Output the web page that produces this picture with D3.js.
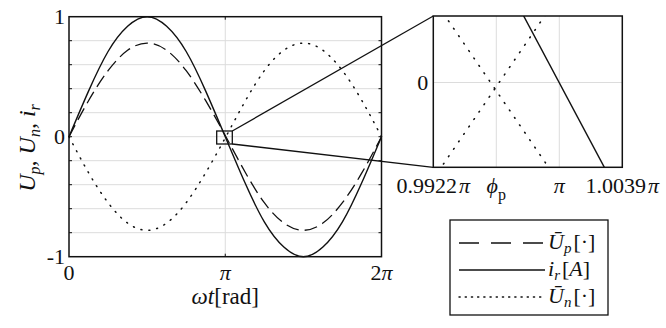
<!DOCTYPE html>
<html>
<head>
<meta charset="utf-8">
<script src="https://cdn.jsdelivr.net/npm/d3@7/dist/d3.min.js"></script>
<style>
  body { margin: 0; background: #fff; }
</style>
</head>
<body>
<div id="chart"></div>
<script>
// main plot samples, x in multiples of pi/8
const sampleX = [0, 1, 2, 3, 4, 5, 6, 7, 8, 9, 10, 11, 12, 13, 14, 15, 16];
const irValues = [0, 0.38, 0.71, 0.92, 1, 0.92, 0.71, 0.38, 0, -0.38, -0.71, -0.92, -1, -0.92, -0.71, -0.38, 0];
const upValues = [0, 0.30, 0.55, 0.72, 0.78, 0.72, 0.55, 0.30, 0.01, -0.29, -0.55, -0.72, -0.78, -0.72, -0.55, -0.30, 0];
const unValues = [0, -0.30, -0.55, -0.72, -0.78, -0.72, -0.55, -0.30, -0.01, 0.29, 0.55, 0.72, 0.78, 0.72, 0.55, 0.30, 0];

// zoomed view near pi, x in multiples of pi
const zoomX = [0.9922, 1.0039];
const zoomIr = [0.0245, -0.0123];
const zoomUp = [0.0087, -0.0200];
const zoomUn = [-0.0100, 0.0187];
const zoomTicks = [0.9922, 0.9961, 1, 1.0039];
const zoomTickLabels = ['0.9922', 'ϕ', 'π', '1.0039'];

const yGrid = [-0.8, -0.6, -0.4, -0.2, 0, 0.2, 0.4, 0.6, 0.8];
const legendItems = [
  { base: 'Ū', sub: 'p', unit: '[·]', dash: '20,12' },
  { base: 'i', sub: 'r', unit: '[A]', dash: null },
  { base: 'Ū', sub: 'n', unit: '[·]', dash: '1.2,5' },
];

const W = 666, H = 328;
const svg = d3.select('#chart').append('svg')
  .attr('width', W).attr('height', H);
const ink = '#111';
// every text gets the serif face directly
const addText = (sel) => sel.append('text')
  .attr('font-family', 'Liberation Serif')
  .style('font-family', "'Liberation Serif', 'Times New Roman', serif")
  .attr('fill', ink);

// ---- main plot
const x = d3.scaleLinear().domain([0, 2 * Math.PI]).range([69, 381.5]);
const y = d3.scaleLinear().domain([-1, 1]).range([256.7, 16.7]);

const main = svg.append('g');
main.selectAll('line.hg').data(yGrid).join('line')
  .attr('x1', x.range()[0]).attr('x2', x.range()[1])
  .attr('y1', (d) => y(d)).attr('y2', (d) => y(d))
  .attr('stroke', '#dcdcdc').attr('stroke-width', 1);
main.append('line')
  .attr('x1', x(Math.PI)).attr('x2', x(Math.PI))
  .attr('y1', y(-1)).attr('y2', y(1))
  .attr('stroke', '#dcdcdc').attr('stroke-width', 1);

// inward ticks
yGrid.forEach((d) => {
  main.append('line').attr('x1', x(0)).attr('x2', x(0) + 3).attr('y1', y(d)).attr('y2', y(d)).attr('stroke', ink);
  main.append('line').attr('x1', x(2 * Math.PI)).attr('x2', x(2 * Math.PI) - 3).attr('y1', y(d)).attr('y2', y(d)).attr('stroke', ink);
});
main.append('line').attr('x1', x(Math.PI)).attr('x2', x(Math.PI)).attr('y1', y(-1)).attr('y2', y(-1) - 3).attr('stroke', ink);
main.append('line').attr('x1', x(Math.PI)).attr('x2', x(Math.PI)).attr('y1', y(1)).attr('y2', y(1) + 3).attr('stroke', ink);

const line = d3.line().curve(d3.curveNatural)
  .x((d) => x(d[0] * Math.PI / 8)).y((d) => y(d[1]));
const series = (vals) => sampleX.map((k, i) => [k, vals[i]]);

main.append('path').attr('d', line(series(upValues)))
  .attr('fill', 'none').attr('stroke', ink).attr('stroke-width', 1.3).attr('stroke-dasharray', '13,6');
main.append('path').attr('d', line(series(unValues)))
  .attr('fill', 'none').attr('stroke', ink).attr('stroke-width', 1.5)
  .attr('stroke-dasharray', '1,7').attr('stroke-linecap', 'round');
main.append('path').attr('d', line(series(irValues)))
  .attr('fill', 'none').attr('stroke', ink).attr('stroke-width', 1.4);

main.append('rect')
  .attr('x', x(0)).attr('y', y(1))
  .attr('width', x(2 * Math.PI) - x(0)).attr('height', y(-1) - y(1))
  .attr('fill', 'none').attr('stroke', ink).attr('stroke-width', 1.5);

// tick labels
const yTickLabels = [[1, '1'], [0, '0'], [-1, '-1']];
yTickLabels.forEach(([v, lab]) => {
  addText(main).attr('x', x(0) - 4).attr('y', y(v))
    .attr('dy', '0.35em').attr('text-anchor', 'end')
    .attr('font-size', 22).text(lab);
});
const xTickLabels = [[0, '0'], [Math.PI, 'π'], [2 * Math.PI, '2π']];
xTickLabels.forEach(([v, lab]) => {
  const t = addText(main).attr('x', x(v)).attr('y', 280)
    .attr('text-anchor', 'middle').attr('font-size', 22);
  if (lab === '2π') {
    t.append('tspan').text('2');
    t.append('tspan').attr('font-style', 'italic').text('π');
  } else {
    t.attr('font-style', v === 0 ? 'normal' : 'italic').text(lab);
  }
});

// axis labels
const xl = addText(main).attr('x', x(Math.PI)).attr('y', 304)
  .attr('text-anchor', 'middle').attr('font-size', 23);
xl.append('tspan').attr('font-style', 'italic').text('ωt');
xl.append('tspan').text('[rad]');

const yl = addText(main)
  .attr('transform', 'translate(35,148) rotate(-90)')
  .attr('text-anchor', 'middle').attr('font-size', 24).attr('font-style', 'italic');
[['U', 'p', ', '], ['U', 'n', ', '], ['i', 'r', '']].forEach(([b, s, sep]) => {
  yl.append('tspan').text(b);
  yl.append('tspan').attr('font-size', 16).attr('dy', 5).text(s);
  yl.append('tspan').attr('dy', -5).text(sep);
});

// ---- zoom inset
const zx = d3.scaleLinear().domain([0.9922, 1.0039]).range([433.3, 622.3]);
const zy = d3.scaleLinear().domain([-0.0088, 0.0069]).range([167.3, 16]);

svg.append('clipPath').attr('id', 'zclip').append('rect')
  .attr('x', zx.range()[0]).attr('y', zy.range()[1])
  .attr('width', zx.range()[1] - zx.range()[0]).attr('height', zy.range()[0] - zy.range()[1]);

// connector box + lines
const box = { x0: 216.7, x1: 232.3, y0: 131, y1: 144 };
svg.append('rect').attr('x', box.x0).attr('y', box.y0)
  .attr('width', box.x1 - box.x0).attr('height', box.y1 - box.y0)
  .attr('fill', 'none').attr('stroke', ink).attr('stroke-width', 1.3);
svg.append('line').attr('x1', box.x1).attr('y1', box.y0).attr('x2', zx.range()[0]).attr('y2', zy.range()[1])
  .attr('stroke', ink).attr('stroke-width', 1.3);
svg.append('line').attr('x1', box.x1).attr('y1', box.y1).attr('x2', zx.range()[0]).attr('y2', zy.range()[0])
  .attr('stroke', ink).attr('stroke-width', 1.3);

const inset = svg.append('g');
inset.append('rect')
  .attr('x', zx.range()[0]).attr('y', zy.range()[1])
  .attr('width', zx.range()[1] - zx.range()[0]).attr('height', zy.range()[0] - zy.range()[1])
  .attr('fill', '#fff');
inset.selectAll('line.vg').data([zoomTicks[1], zoomTicks[2]]).join('line')
  .attr('x1', (d) => zx(d)).attr('x2', (d) => zx(d))
  .attr('y1', zy.range()[0]).attr('y2', zy.range()[1])
  .attr('stroke', '#dcdcdc');
inset.append('line').attr('x1', zx.range()[0]).attr('x2', zx.range()[1])
  .attr('y1', zy(0)).attr('y2', zy(0)).attr('stroke', '#dcdcdc');

const zline = d3.line().x((d) => zx(d[0])).y((d) => zy(d[1]));
const zseries = (vals) => zoomX.map((v, i) => [v, vals[i]]);
const zg = inset.append('g').attr('clip-path', 'url(#zclip)');
[zoomUp, zoomUn].forEach((vals) => {
  zg.append('path').attr('d', zline(zseries(vals)))
    .attr('fill', 'none').attr('stroke', ink).attr('stroke-width', 1.6)
    .attr('stroke-dasharray', '0.8,8.2').attr('stroke-linecap', 'round');
});
zg.append('path').attr('d', zline(zseries(zoomIr)))
  .attr('fill', 'none').attr('stroke', ink).attr('stroke-width', 1.4);

inset.append('rect')
  .attr('x', zx.range()[0]).attr('y', zy.range()[1])
  .attr('width', zx.range()[1] - zx.range()[0]).attr('height', zy.range()[0] - zy.range()[1])
  .attr('fill', 'none').attr('stroke', ink).attr('stroke-width', 1.5);

addText(inset).attr('x', zx.range()[0] - 5).attr('y', zy(0)).attr('dy', '0.35em')
  .attr('text-anchor', 'end').attr('font-size', 22).text('0');
zoomTicks.forEach((t, i) => {
  const tx = addText(inset).attr('x', zx(t)).attr('y', 193)
    .attr('text-anchor', 'middle').attr('font-size', 22);
  const lab = zoomTickLabels[i];
  if (lab === 'ϕ') {
    tx.append('tspan').attr('font-style', 'italic').text('ϕ');
    tx.append('tspan').attr('font-size', 16).attr('dy', 7).text('p');
  } else if (lab === 'π') {
    tx.attr('font-style', 'italic').text(lab);
  } else {
    tx.append('tspan').text(lab);
    tx.append('tspan').attr('font-style', 'italic').attr('dx', 2).text('π');
  }
});

// ---- legend
const lg = svg.append('g');
lg.append('rect').attr('x', 450).attr('y', 220).attr('width', 158).attr('height', 95)
  .attr('fill', '#fff').attr('stroke', ink).attr('stroke-width', 1.3);
const rowY = d3.scalePoint().domain(legendItems.map((_, i) => i)).range([243, 297]);
legendItems.forEach((it, i) => {
  const yy = rowY(i);
  lg.append('line').attr('x1', 459).attr('x2', 545).attr('y1', yy).attr('y2', yy)
    .attr('stroke', ink).attr('stroke-width', 1.4)
    .attr('stroke-dasharray', it.dash)
    .attr('stroke-linecap', it.dash && it.dash.startsWith('1.2') ? 'round' : 'butt');
  const t = addText(lg).attr('x', 548).attr('y', yy + 6).attr('font-size', 22);
  t.append('tspan').attr('font-style', 'italic').text(it.base);
  t.append('tspan').attr('font-style', 'italic').attr('font-size', 15).attr('dy', 4).text(it.sub);
  const u = t.append('tspan').attr('dy', -4).attr('dx', 2);
  if (it.unit === '[A]') {
    u.text('[');
    t.append('tspan').attr('font-style', 'italic').text('A');
    t.append('tspan').text(']');
  } else {
    u.text(it.unit);
  }
});
</script>
</body>
</html>
